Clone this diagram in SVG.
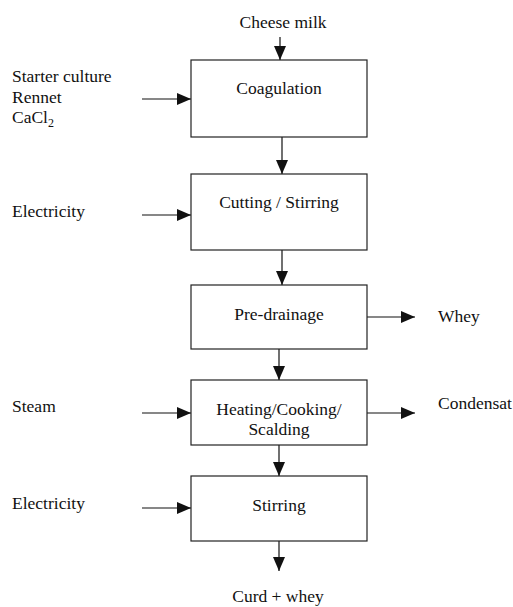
<svg xmlns="http://www.w3.org/2000/svg" width="513" height="607" viewBox="0 0 513 607">
<style>
text{font-family:'Liberation Serif','Times New Roman',serif;font-size:17.5px;fill:#111}
.c{text-anchor:middle}
rect{fill:#fff;stroke:#222;stroke-width:1.2}
line{stroke:#111;stroke-width:1.2}
</style>
<defs>
<marker id="ah" viewBox="0 0 14 12" refX="14" refY="6" markerWidth="14" markerHeight="12" markerUnits="userSpaceOnUse" orient="auto">
<path d="M0,0L14,6L0,12Z" fill="#111"/>
</marker>
</defs>
<g id="connectors">
<line x1="280" y1="37" x2="280" y2="60" marker-end="url(#ah)"/>
<line x1="142" y1="99" x2="191" y2="99" marker-end="url(#ah)"/>
<line x1="282" y1="137" x2="282" y2="174" marker-end="url(#ah)"/>
<line x1="142" y1="215" x2="191" y2="215" marker-end="url(#ah)"/>
<line x1="282" y1="250" x2="282" y2="285" marker-end="url(#ah)"/>
<line x1="367" y1="317" x2="415" y2="317" marker-end="url(#ah)"/>
<line x1="279" y1="349" x2="279" y2="380" marker-end="url(#ah)"/>
<line x1="142" y1="413" x2="191" y2="413" marker-end="url(#ah)"/>
<line x1="367" y1="413" x2="415" y2="413" marker-end="url(#ah)"/>
<line x1="279" y1="445" x2="279" y2="476" marker-end="url(#ah)"/>
<line x1="142" y1="508" x2="191" y2="508" marker-end="url(#ah)"/>
<line x1="279" y1="541" x2="279" y2="571" marker-end="url(#ah)"/>
</g>
<g id="coagulation"><rect x="191" y="60" width="176" height="77"/><text class="c" x="279" y="94">Coagulation</text></g>
<g id="cutting"><rect x="191" y="174" width="176" height="76"/><text class="c" x="279" y="208">Cutting / Stirring</text></g>
<g id="predrainage"><rect x="191" y="285" width="176" height="64"/><text class="c" x="279" y="320">Pre-drainage</text></g>
<g id="heating"><rect x="191" y="380" width="176" height="65"/><text class="c" x="279" y="415">Heating/Cooking/</text><text class="c" x="279" y="435">Scalding</text></g>
<g id="stirring"><rect x="191" y="476" width="176" height="65"/><text class="c" x="279" y="511">Stirring</text></g>
<g id="labels">
<text class="c" x="283" y="28">Cheese milk</text>
<text x="12" y="82">Starter culture</text>
<text x="12" y="103">Rennet</text>
<text x="12" y="123">CaCl<tspan font-size="12" dy="4">2</tspan></text>
<text x="12" y="217">Electricity</text>
<text x="438" y="322">Whey</text>
<text x="12" y="412">Steam</text>
<text x="438" y="409">Condensat</text>
<text x="12" y="509">Electricity</text>
<text class="c" x="278" y="602">Curd + whey</text>
</g>
</svg>
